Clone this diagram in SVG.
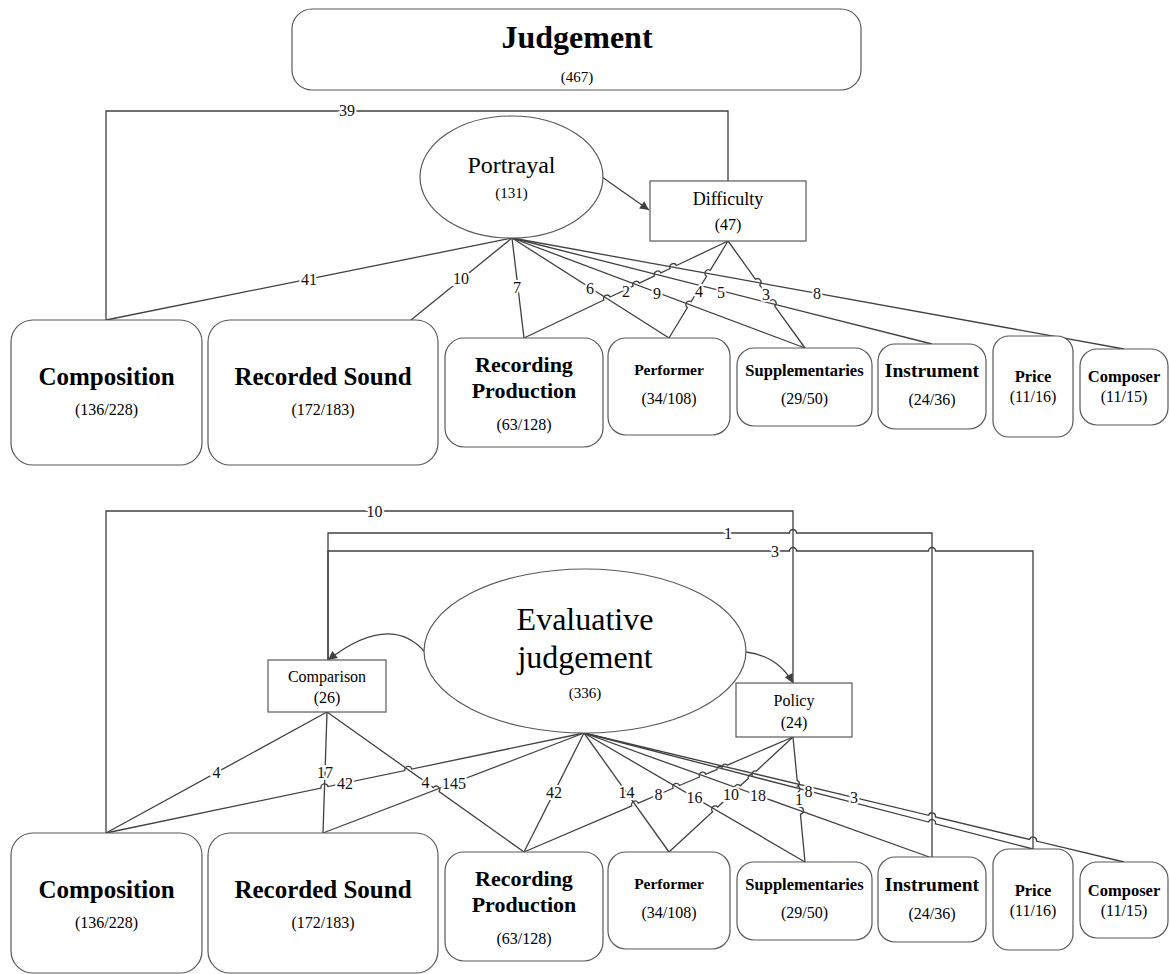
<svg xmlns="http://www.w3.org/2000/svg" width="1170" height="974" viewBox="0 0 1170 974">
<style>
.box{fill:#fff;stroke:#595959;stroke-width:1.2}
.ln{fill:none;stroke:#404040;stroke-width:1.3}
.t{font-family:"Liberation Serif",serif;fill:#000;text-anchor:middle}
.b{font-weight:bold}
.lbl{font-family:"Liberation Serif",serif;font-size:16px;text-anchor:middle;fill:#111;stroke:#fff;stroke-width:4;paint-order:stroke}
</style>
<defs>
<marker id="arr" viewBox="0 0 10 10" refX="10" refY="5" markerWidth="10" markerHeight="9" markerUnits="userSpaceOnUse" orient="auto">
<path d="M0,0 L10,5 L0,10 z" fill="#404040"/>
</marker>
</defs>
<rect width="1170" height="974" fill="#fff"/>

<g id="connectors">
<!-- top -->
<path class="ln" d="M106 320 V111 H728 V181"/>
<path class="ln" d="M602 177 L649 210" marker-end="url(#arr)"/>
<path class="ln" d="M512 238 L106 320"/>
<path class="ln" d="M512 238 L411 320"/>
<path class="ln" d="M512 238 L524 338"/>
<path class="ln" d="M512 238 L669 338"/>
<path class="ln" d="M512 238 L805 348"/>
<path class="ln" d="M512 238 L932 344"/>
<path class="ln" d="M512 238 L1124 349"/>
<path class="ln" d="M728 241 L676.46 265.5 A3.5 3.5 0 0 0 670.14 268.5 L660.86 272.9 A3.5 3.5 0 0 0 654.54 275.9 L639.36 283.1 A3.5 3.5 0 0 0 633.04 286.1 L610.16 297 A3.5 3.5 0 0 0 603.84 300 L524 338"/>
<path class="ln" d="M728 241 L710.22 270.31 A3.5 3.5 0 0 0 706.58 276.29 L691.12 301.61 A3.5 3.5 0 0 0 687.48 307.59 L669 338"/>
<path class="ln" d="M728 241 L755.56 279.26 A3.5 3.5 0 0 1 759.64 284.94 L770.66 300.36 A3.5 3.5 0 0 1 774.74 306.04 L805 348"/>
<text class="lbl" x="347" y="116">39</text>
<text class="lbl" x="309" y="285">41</text>
<text class="lbl" x="461" y="283.5">10</text>
<text class="lbl" x="517" y="292.5">7</text>
<text class="lbl" x="590" y="293.5">6</text>
<text class="lbl" x="626" y="296.5">2</text>
<text class="lbl" x="657" y="298.5">9</text>
<text class="lbl" x="699" y="296.5">4</text>
<text class="lbl" x="721" y="297.5">5</text>
<text class="lbl" x="766" y="299.5">3</text>
<text class="lbl" x="817" y="298.5">8</text>

<!-- bottom -->
<path class="ln" d="M106 833 V511 H793 V683"/>
<path class="ln" d="M932 857 V533 H796.5 A3.5 3.5 0 0 0 789.5 533 H328 V660"/>
<path class="ln" d="M1033 849 V551 H935.5 A3.5 3.5 0 0 0 928.5 551 H796.5 A3.5 3.5 0 0 0 789.5 551 H328 V660"/>
<path class="ln" d="M425 652 Q390 612 328 660" marker-end="url(#arr)"/>
<path class="ln" d="M746 652 Q778 656 793 683" marker-end="url(#arr)"/>
<path class="ln" d="M327 712 L106 833"/>
<path class="ln" d="M327 712 L323 833"/>
<path class="ln" d="M327 712 L433.35 787.57 A3.5 3.5 0 0 1 439.05 791.63 L524 852"/>
<path class="ln" d="M584 733 L411.73 769.08 A3.5 3.5 0 0 0 404.87 770.52 L327.93 786.58 A3.5 3.5 0 0 0 321.07 788.02 L106 833"/>
<path class="ln" d="M584 733 L323 833"/>
<path class="ln" d="M584 733 L524 852"/>
<path class="ln" d="M584 733 L669 852"/>
<path class="ln" d="M584 733 L805 862"/>
<path class="ln" d="M584 733 L932 858"/>
<path class="ln" d="M584 733 L928.61 822.02 A3.5 3.5 0 0 1 935.39 823.78 L1033 849"/>
<path class="ln" d="M584 733 L928.6 815.29 A3.5 3.5 0 0 1 935.4 816.91 L1029.6 839.49 A3.5 3.5 0 0 1 1036.4 841.11 L1124 862"/>
<path class="ln" d="M793 737 L727.32 765.12 A3 3 0 0 0 722.1 767.35 A3 3 0 0 0 716.88 769.58 L705.92 774.22 A3.5 3.5 0 0 0 699.48 776.98 L679.52 785.52 A3.5 3.5 0 0 0 673.08 788.28 L638.32 803.12 A3.5 3.5 0 0 0 631.88 805.88 L524 852"/>
<path class="ln" d="M793 737 L756.17 771.12 A3 3 0 0 0 752.2 774.8 A3 3 0 0 0 748.23 778.48 L740.27 785.82 A3.5 3.5 0 0 0 735.13 790.58 L717.77 807.02 A3.5 3.5 0 0 0 712.63 811.78 L669 852"/>
<path class="ln" d="M793 737 L797.17 780.52 A3 3 0 0 1 797.7 786.15 A3 3 0 0 1 798.23 791.78 L799.77 807.12 A3.5 3.5 0 0 1 800.43 814.08 L805 862"/>
<text class="lbl" x="374.5" y="516.5">10</text>
<text class="lbl" x="728" y="538.5">1</text>
<text class="lbl" x="775" y="556.5">3</text>
<text class="lbl" x="216.5" y="778">4</text>
<text class="lbl" x="325" y="778">17</text>
<text class="lbl" x="425.5" y="787.5">4</text>
<text class="lbl" x="345" y="788.5">42</text>
<text class="lbl" x="454" y="788.5">145</text>
<text class="lbl" x="554" y="798">42</text>
<text class="lbl" x="626.5" y="798">14</text>
<text class="lbl" x="658.5" y="800">8</text>
<text class="lbl" x="694.5" y="803">16</text>
<text class="lbl" x="731" y="800">10</text>
<text class="lbl" x="758" y="801">18</text>
<text class="lbl" x="799" y="805">1</text>
<text class="lbl" x="808.5" y="796.5">8</text>
<text class="lbl" x="854" y="803">3</text>
</g>

<g id="judgement">
<rect class="box" x="292" y="9" width="569" height="81" rx="20"/>
<text class="t b" x="577" y="48" font-size="32">Judgement</text>
<text class="t" x="577" y="82" font-size="15">(467)</text>
</g>

<g id="portrayal">
<ellipse class="box" cx="511.5" cy="177" rx="91.5" ry="61"/>
<text class="t" x="511.5" y="173" font-size="24">Portrayal</text>
<text class="t" x="511.5" y="198" font-size="15">(131)</text>
</g>
<g id="difficulty">
<rect class="box" x="650" y="181" width="156" height="60"/>
<text class="t" x="728" y="205" font-size="18">Difficulty</text>
<text class="t" x="728" y="230" font-size="16">(47)</text>
</g>

<g id="top-composition">
<rect class="box" x="11" y="320" width="191" height="145" rx="22"/>
<text class="t b" x="106.5" y="385" font-size="25">Composition</text>
<text class="t" x="106.5" y="415" font-size="16">(136/228)</text>
</g>
<g id="top-recorded-sound">
<rect class="box" x="208" y="320" width="230" height="145" rx="22"/>
<text class="t b" x="323" y="385" font-size="25">Recorded Sound</text>
<text class="t" x="323" y="415" font-size="16">(172/183)</text>
</g>
<g id="top-recording-production">
<rect class="box" x="445" y="338" width="158" height="109" rx="19"/>
<text class="t b" x="524" y="372" font-size="22">Recording</text>
<text class="t b" x="524" y="398" font-size="22">Production</text>
<text class="t" x="524" y="430" font-size="16">(63/128)</text>
</g>
<g id="top-performer">
<rect class="box" x="608" y="338" width="122" height="97" rx="18"/>
<text class="t b" x="669" y="375" font-size="15.5">Performer</text>
<text class="t" x="669" y="404" font-size="16">(34/108)</text>
</g>
<g id="top-supplementaries">
<rect class="box" x="737" y="348" width="135" height="78" rx="17"/>
<text class="t b" x="804.5" y="376" font-size="16.5">Supplementaries</text>
<text class="t" x="804.5" y="404" font-size="16">(29/50)</text>
</g>
<g id="top-instrument">
<rect class="box" x="878" y="344" width="108" height="85" rx="17"/>
<text class="t b" x="932" y="377" font-size="19.5">Instrument</text>
<text class="t" x="932" y="405" font-size="16">(24/36)</text>
</g>
<g id="top-price">
<rect class="box" x="993" y="336" width="80" height="101" rx="16"/>
<text class="t b" x="1033" y="382" font-size="16.5">Price</text>
<text class="t" x="1033" y="402" font-size="16">(11/16)</text>
</g>
<g id="top-composer">
<rect class="box" x="1080" y="349" width="88" height="76" rx="17"/>
<text class="t b" x="1124" y="382" font-size="16.5">Composer</text>
<text class="t" x="1124" y="402" font-size="16">(11/15)</text>
</g>

<g id="evaluative-judgement">
<ellipse class="box" cx="585" cy="651" rx="161" ry="82"/>
<text class="t" x="585" y="630" font-size="32">Evaluative</text>
<text class="t" x="585" y="668" font-size="32">judgement</text>
<text class="t" x="585" y="698" font-size="15">(336)</text>
</g>
<g id="comparison">
<rect class="box" x="268" y="660" width="118" height="52"/>
<text class="t" x="327" y="682" font-size="16">Comparison</text>
<text class="t" x="327" y="703" font-size="16">(26)</text>
</g>
<g id="policy">
<rect class="box" x="736" y="683" width="116" height="54"/>
<text class="t" x="794" y="706" font-size="16">Policy</text>
<text class="t" x="794" y="728" font-size="16">(24)</text>
</g>

<g id="bottom-composition">
<rect class="box" x="11" y="833" width="191" height="140" rx="22"/>
<text class="t b" x="106.5" y="898" font-size="25">Composition</text>
<text class="t" x="106.5" y="928" font-size="16">(136/228)</text>
</g>
<g id="bottom-recorded-sound">
<rect class="box" x="208" y="833" width="230" height="140" rx="22"/>
<text class="t b" x="323" y="898" font-size="25">Recorded Sound</text>
<text class="t" x="323" y="928" font-size="16">(172/183)</text>
</g>
<g id="bottom-recording-production">
<rect class="box" x="445" y="852" width="158" height="109" rx="19"/>
<text class="t b" x="524" y="886" font-size="22">Recording</text>
<text class="t b" x="524" y="912" font-size="22">Production</text>
<text class="t" x="524" y="944" font-size="16">(63/128)</text>
</g>
<g id="bottom-performer">
<rect class="box" x="608" y="852" width="122" height="97" rx="18"/>
<text class="t b" x="669" y="889" font-size="15.5">Performer</text>
<text class="t" x="669" y="918" font-size="16">(34/108)</text>
</g>
<g id="bottom-supplementaries">
<rect class="box" x="737" y="862" width="135" height="78" rx="17"/>
<text class="t b" x="804.5" y="890" font-size="16.5">Supplementaries</text>
<text class="t" x="804.5" y="918" font-size="16">(29/50)</text>
</g>
<g id="bottom-instrument">
<rect class="box" x="878" y="857" width="108" height="85" rx="17"/>
<text class="t b" x="932" y="891" font-size="19.5">Instrument</text>
<text class="t" x="932" y="919" font-size="16">(24/36)</text>
</g>
<g id="bottom-price">
<rect class="box" x="993" y="849" width="80" height="101" rx="16"/>
<text class="t b" x="1033" y="896" font-size="16.5">Price</text>
<text class="t" x="1033" y="916" font-size="16">(11/16)</text>
</g>
<g id="bottom-composer">
<rect class="box" x="1080" y="862" width="88" height="76" rx="17"/>
<text class="t b" x="1124" y="896" font-size="16.5">Composer</text>
<text class="t" x="1124" y="916" font-size="16">(11/15)</text>
</g>
</svg>
